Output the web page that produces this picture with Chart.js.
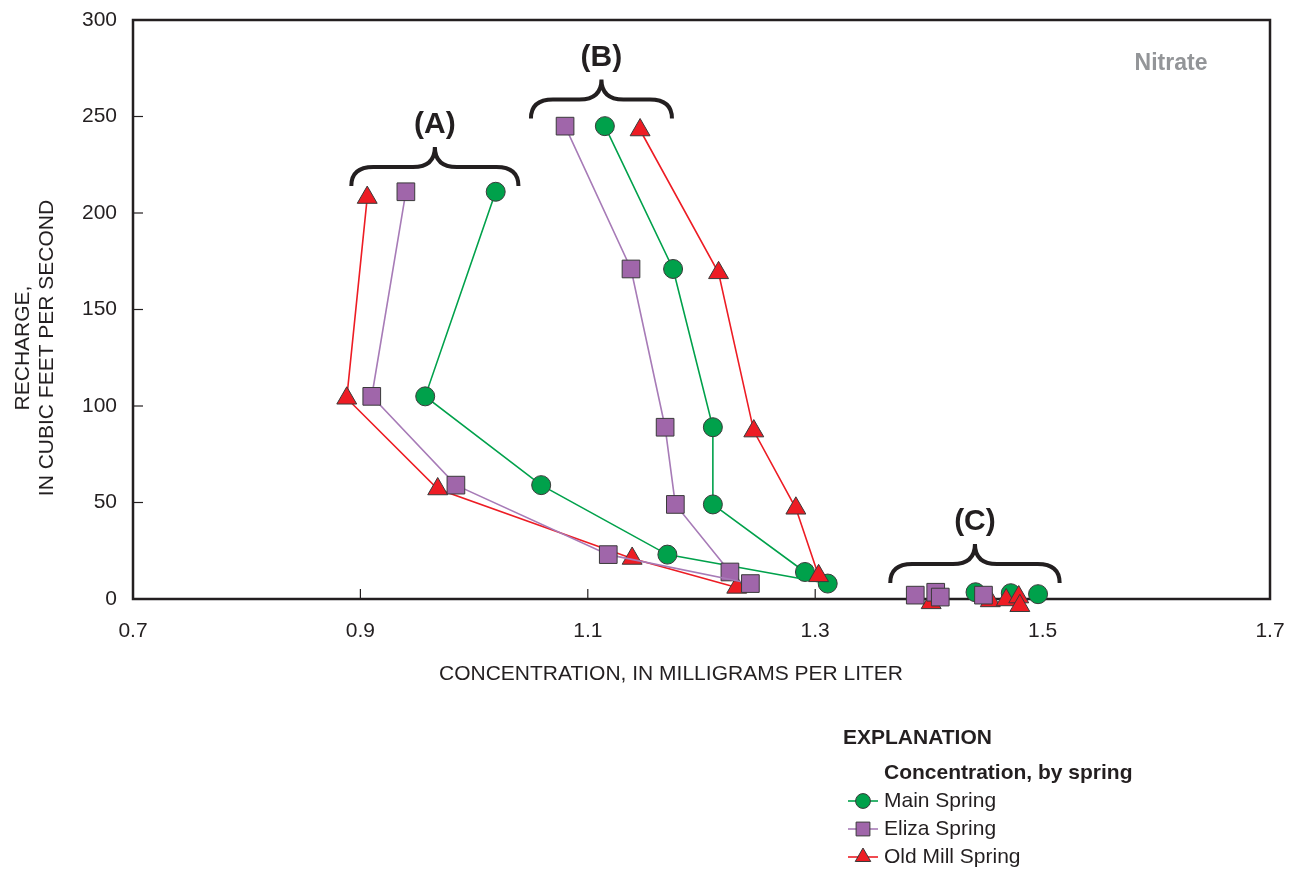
<!DOCTYPE html>
<html>
<head>
<meta charset="utf-8">
<script src="https://cdn.jsdelivr.net/npm/chart.js@4.4.1/dist/chart.umd.min.js"></script>
<style>
  body { margin: 0; background: #fff; }
  canvas { display: block; }
</style>
</head>
<body>
<canvas id="nitrate-chart" width="1297" height="869"></canvas>
<script>
// axis ticks
const xTickLabels = [0.7, 0.9, 1.1, 1.3, 1.5, 1.7];
const yTickLabels = [0, 50, 100, 150, 200, 250, 300];
const xTickMarks = [0.9, 1.1, 1.3, 1.5];
const yTickMarks = [50, 100, 150, 200, 250];

// recharge (cfs) for each sampling, event A and event B
const rechargeA = [211, 105, 59, 23, 8];
const rechargeB = [245, 171, 89, 49, 14];
const oldMillRechargeA = [208, 104, 57, 21, 6];
const oldMillRechargeB = [243, 169, 87, 47, 12];

// nitrate concentration (mg/L)
const mainA = [1.019, 0.957, 1.059, 1.170, 1.311];
const mainB = [1.115, 1.175, 1.210, 1.210, 1.291];
const elizaA = [0.940, 0.910, 0.984, 1.118, 1.243];
const elizaB = [1.080, 1.138, 1.168, 1.177, 1.225];
const oldMillA = [0.906, 0.888, 0.968, 1.139, 1.231];
const oldMillB = [1.146, 1.215, 1.246, 1.283, 1.303];

// event C (low recharge)
const mainC = [1.441, 1.472, 1.496];
const mainCRecharge = [3.5, 3, 2.5];
const elizaC = [1.388, 1.406, 1.410, 1.448];
const elizaCRecharge = [2, 3.5, 1, 2];
const oldMillC = [1.402, 1.454, 1.468, 1.479, 1.480];
const oldMillCRecharge = [-2, -1, -0.5, 1, -3.5];

// braces: left x, right x, recharge at the ends
const braceNames = ['(A)', '(B)', '(C)'];
const braceLeft = [0.892, 1.050, 1.366];
const braceRight = [1.039, 1.174, 1.515];
const braceBase = [214, 249, 8.3];

const springs = ['Main Spring', 'Eliza Spring', 'Old Mill Spring'];

const FONT = '"Liberation Sans", Arial, Helvetica, sans-serif';
const INK = '#231f20';

const toPoints = (xs, ys) => xs.map((x, i) => ({ x: x, y: ys[i] }));

const styles = {
    main: { fill: '#00a14b', line: '#00a14b', shape: 'circle', r: 9.5 },
    eliza: { fill: '#a066aa', line: '#a77bb7', shape: 'rect', r: 12.5 },
    oldMill: { fill: '#ed1c24', line: '#ed1c24', shape: 'triangle', r: 11.5 }
};

function makeSet(label, points, st, showLine, order) {
    return {
        label: label,
        data: points,
        showLine: showLine,
        borderColor: st.line,
        borderWidth: 1.6,
        pointStyle: st.shape,
        pointRadius: st.r,
        pointBackgroundColor: st.fill,
        pointBorderColor: '#3a3a3a',
        pointBorderWidth: 1,
        clip: false,
        order: order
    };
}

const datasets = [
    makeSet('Eliza Spring', toPoints(elizaA, rechargeA), styles.eliza, true, 0),
    makeSet('Eliza Spring', toPoints(elizaB, rechargeB), styles.eliza, true, 0),
    makeSet('Eliza Spring', toPoints(elizaC, elizaCRecharge), styles.eliza, false, 0),
    makeSet('Old Mill Spring', toPoints(oldMillA, oldMillRechargeA), styles.oldMill, true, 1),
    makeSet('Old Mill Spring', toPoints(oldMillB, oldMillRechargeB), styles.oldMill, true, 1),
    makeSet('Old Mill Spring', toPoints(oldMillC, oldMillCRecharge), styles.oldMill, false, 1),
    makeSet('Main Spring', toPoints(mainA, rechargeA), styles.main, true, 2),
    makeSet('Main Spring', toPoints(mainB, rechargeB), styles.main, true, 2),
    makeSet('Main Spring', toPoints(mainC, mainCRecharge), styles.main, false, 2)
];

// frame, inner ticks, braces
const framePlugin = {
    id: 'frame',
    beforeDatasetsDraw(chart) {
        const ctx = chart.ctx;
        const a = chart.chartArea;
        const xs = chart.scales.x, ys = chart.scales.y;
        ctx.save();
        ctx.strokeStyle = INK;
        ctx.lineWidth = 1.2;
        xTickMarks.forEach(v => {
            const px = xs.getPixelForValue(v);
            ctx.beginPath();
            ctx.moveTo(px, a.bottom);
            ctx.lineTo(px, a.bottom - 10);
            ctx.stroke();
        });
        yTickMarks.forEach(v => {
            const py = ys.getPixelForValue(v);
            ctx.beginPath();
            ctx.moveTo(a.left, py);
            ctx.lineTo(a.left + 10, py);
            ctx.stroke();
        });
        ctx.lineWidth = 2.5;
        ctx.strokeRect(a.left, a.top, a.right - a.left, a.bottom - a.top);

        // braces
        ctx.lineWidth = 4;
        ctx.fillStyle = INK;
        ctx.textAlign = 'center';
        ctx.textBaseline = 'middle';
        ctx.font = 'bold 30px ' + FONT;
        braceNames.forEach((name, i) => {
            const x1 = xs.getPixelForValue(braceLeft[i]);
            const x2 = xs.getPixelForValue(braceRight[i]);
            const yb = ys.getPixelForValue(braceBase[i]);
            const xm = (x1 + x2) / 2;
            const yh = yb - 19;
            const yp = yb - 39;
            const r = 22;
            ctx.beginPath();
            ctx.moveTo(x1, yb);
            ctx.quadraticCurveTo(x1, yh, x1 + r, yh);
            ctx.lineTo(xm - r, yh);
            ctx.quadraticCurveTo(xm, yh, xm, yp);
            ctx.quadraticCurveTo(xm, yh, xm + r, yh);
            ctx.lineTo(x2 - r, yh);
            ctx.quadraticCurveTo(x2, yh, x2, yb);
            ctx.stroke();
            ctx.fillText(name, xm, yp - 22);
        });
        ctx.restore();
    },
    afterDraw(chart) {
        const ctx = chart.ctx;
        ctx.save();
        ctx.fillStyle = INK;
        ctx.textBaseline = 'middle';

        // axis titles
        ctx.font = '21px ' + FONT;
        ctx.textAlign = 'center';
        ctx.fillText('CONCENTRATION, IN MILLIGRAMS PER LITER', 671, 674);
        ctx.save();
        ctx.translate(23, 348);
        ctx.rotate(-Math.PI / 2);
        ctx.fillText('RECHARGE,', 0, 0);
        ctx.restore();
        ctx.save();
        ctx.translate(47, 348);
        ctx.rotate(-Math.PI / 2);
        ctx.fillText('IN CUBIC FEET PER SECOND', 0, 0);
        ctx.restore();

        // panel name
        ctx.fillStyle = '#939598';
        ctx.font = 'bold 23px ' + FONT;
        ctx.fillText('Nitrate', 1171, 64);

        // explanation
        ctx.fillStyle = INK;
        ctx.textAlign = 'left';
        ctx.font = 'bold 21px ' + FONT;
        ctx.fillText('EXPLANATION', 843, 738);
        ctx.fillText('Concentration, by spring', 884, 773);
        ctx.font = '21px ' + FONT;
        const keys = ['main', 'eliza', 'oldMill'];
        springs.forEach((name, i) => {
            const y = 801 + i * 28;
            const st = styles[keys[i]];
            ctx.strokeStyle = st.line;
            ctx.lineWidth = 1.6;
            ctx.beginPath();
            ctx.moveTo(848, y);
            ctx.lineTo(878, y);
            ctx.stroke();
            ctx.fillStyle = st.fill;
            ctx.strokeStyle = '#3a3a3a';
            ctx.lineWidth = 1;
            Chart.helpers.drawPoint(ctx, { pointStyle: st.shape, radius: st.r * 0.78, borderWidth: 1 }, 863, y);
            ctx.fillStyle = INK;
            ctx.fillText(name, 884, y);
        });
        ctx.restore();
    }
};

new Chart(document.getElementById('nitrate-chart'), {
    type: 'scatter',
    data: { datasets: datasets },
    options: {
        responsive: false,
        animation: false,
        layout: { padding: { top: 20, right: 27, left: 0, bottom: 0 } },
        plugins: { legend: { display: false }, tooltip: { enabled: false } },
        scales: {
            x: {
                type: 'linear',
                min: 0.7,
                max: 1.7,
                afterBuildTicks: s => { s.ticks = xTickLabels.map(v => ({ value: v })); },
                afterFit: s => { s.height = 270; s.paddingLeft = 0; s.paddingRight = 0; },
                grid: { display: false, drawTicks: false },
                border: { display: false },
                ticks: {
                    padding: 20,
                    color: INK,
                    font: { family: FONT, size: 21 },
                    callback: v => v.toFixed(1)
                }
            },
            y: {
                type: 'linear',
                min: 0,
                max: 300,
                afterBuildTicks: s => { s.ticks = yTickLabels.map(v => ({ value: v })); },
                afterFit: s => { s.width = 133; s.paddingTop = 0; s.paddingBottom = 0; },
                grid: { display: false, drawTicks: false },
                border: { display: false },
                ticks: {
                    padding: 16,
                    color: INK,
                    font: { family: FONT, size: 21 },
                    callback: v => String(v)
                }
            }
        }
    },
    plugins: [framePlugin]
});
</script>
</body>
</html>
